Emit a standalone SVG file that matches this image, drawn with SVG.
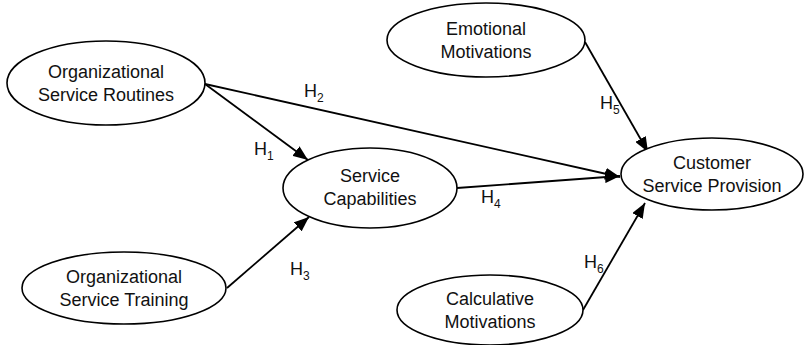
<svg xmlns="http://www.w3.org/2000/svg" width="805" height="345" viewBox="0 0 805 345">
<style>
  .node ellipse { fill: #ffffff; stroke: #000000; stroke-width: 1.6; }
  .node text { font-family: "Liberation Sans", Arial, sans-serif; font-size: 18px; fill: #111111; text-anchor: middle; }
  .edge line { stroke: #000000; stroke-width: 1.8; }
  .lbl { font-family: "Liberation Sans", Arial, sans-serif; font-size: 18px; fill: #111111; }
  .sub { font-size: 12px; }
</style>
<defs>
  <marker id="arr" markerUnits="userSpaceOnUse" markerWidth="16" markerHeight="12" refX="15" refY="6" orient="auto">
    <path d="M0,0 L15,6 L0,12 z" fill="#000000"/>
  </marker>
</defs>
<rect width="805" height="345" fill="#ffffff"/>
<g id="connectors" class="edge">
  <line x1="205" y1="84" x2="308" y2="160" marker-end="url(#arr)"/>
  <line x1="205" y1="84" x2="620" y2="177" marker-end="url(#arr)"/>
  <line x1="227" y1="288" x2="309" y2="217" marker-end="url(#arr)"/>
  <line x1="457" y1="188" x2="620" y2="176" marker-end="url(#arr)"/>
  <line x1="585" y1="42" x2="648" y2="152" marker-end="url(#arr)"/>
  <line x1="583" y1="310" x2="645" y2="203" marker-end="url(#arr)"/>
</g>
<g id="edge-labels">
  <text class="lbl" x="304" y="97">H<tspan class="sub" dy="5">2</tspan></text>
  <text class="lbl" x="254" y="155">H<tspan class="sub" dy="5">1</tspan></text>
  <text class="lbl" x="290" y="275">H<tspan class="sub" dy="5">3</tspan></text>
  <text class="lbl" x="481" y="203">H<tspan class="sub" dy="5">4</tspan></text>
  <text class="lbl" x="600" y="109">H<tspan class="sub" dy="5">5</tspan></text>
  <text class="lbl" x="584" y="268">H<tspan class="sub" dy="5">6</tspan></text>
</g>
<g id="osr" class="node">
  <ellipse cx="106" cy="83" rx="99" ry="42"/>
  <text x="106" y="78">Organizational</text>
  <text x="106" y="101">Service Routines</text>
</g>
<g id="em" class="node">
  <ellipse cx="486" cy="40" rx="99" ry="37"/>
  <text x="486" y="35">Emotional</text>
  <text x="486" y="58">Motivations</text>
</g>
<g id="sc" class="node">
  <ellipse cx="370" cy="188" rx="87" ry="40"/>
  <text x="370" y="182">Service</text>
  <text x="370" y="205">Capabilities</text>
</g>
<g id="csp" class="node">
  <ellipse cx="712" cy="174" rx="91" ry="36"/>
  <text x="712" y="169">Customer</text>
  <text x="712" y="192">Service Provision</text>
</g>
<g id="ost" class="node">
  <ellipse cx="124" cy="288" rx="102" ry="36"/>
  <text x="124" y="283">Organizational</text>
  <text x="124" y="306">Service Training</text>
</g>
<g id="cm" class="node">
  <ellipse cx="490" cy="310" rx="93" ry="35"/>
  <text x="490" y="305">Calculative</text>
  <text x="490" y="328">Motivations</text>
</g>
</svg>
